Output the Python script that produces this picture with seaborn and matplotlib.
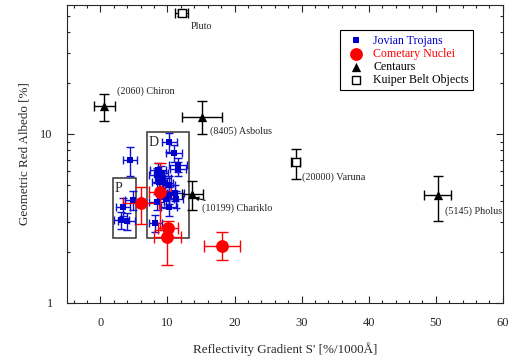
"""Albedo vs. reflectivity gradient for Trojans, comets, Centaurs and KBOs."""
import matplotlib
matplotlib.use("Agg")
import matplotlib.pyplot as plt
from matplotlib.patches import Rectangle
from matplotlib.ticker import MultipleLocator, FixedLocator, NullFormatter
import seaborn as sns

# Jovian Trojans: S' [%/1000A], albedo [%]
troj_s = [4.4, 4.9, 3.4, 3.1, 3.9, 10.3, 11.0, 11.6, 11.6, 8.55, 9.05, 8.4, 9.3,
          8.8, 9.7, 10.2, 11.2, 10.3, 9.8, 11.3, 8.4, 10.2, 8.2]
troj_a = [7.0, 4.07, 3.71, 3.1, 3.06, 9.0, 7.75, 6.56, 6.2, 6.13, 5.85, 5.7, 5.47,
          5.2, 5.1, 5.0, 4.5, 4.35, 4.12, 4.12, 3.98, 3.71, 2.96]
troj_serr = [1.0, 1.2, 1.0, 1.1, 1.2, 1.1, 1.2, 1.3, 1.2, 1.2, 1.0, 1.1, 1.2,
             1.1, 1.2, 1.0, 1.2, 1.1, 1.2, 1.0, 1.1, 1.2, 1.0]
troj_aerr = [1.4, 0.5, 0.45, 0.35, 0.35, 1.2, 0.9, 0.6, 0.6, 0.6, 0.6, 0.6, 0.6,
             0.55, 0.55, 0.6, 0.5, 0.5, 0.5, 0.5, 0.45, 0.45, 0.35]

# Cometary nuclei
com_s = [6.1, 8.9, 10.05, 9.95, 18.1]
com_a = [3.9, 4.55, 2.77, 2.47, 2.17]
com_serr = [2.7, 1.6, 1.5, 2.0, 2.7]
com_alo = [0.97, 1.85, 0.3, 0.8, 0.37]
com_ahi = [0.97, 2.2, 0.3, 0.35, 0.46]

# Centaurs
cen_names = ["(2060) Chiron", "(8405) Asbolus", "(10199) Chariklo", "(5145) Pholus"]
cen_s = [0.6, 15.1, 13.7, 50.3]
cen_a = [14.6, 12.6, 4.42, 4.36]
cen_serr = [1.6, 3.0, 1.6, 2.0]
cen_alo = [2.7, 2.6, 0.87, 1.31]
cen_ahi = [2.7, 3.1, 0.88, 1.24]

# Kuiper Belt Objects
kbo_names = ["Pluto", "(20000) Varuna"]
kbo_s = [12.1, 29.1]
kbo_a = [52.0, 6.8]
kbo_serr = [0.9, 0.7]
kbo_alo = [2.0, 1.4]
kbo_ahi = [2.0, 1.3]

# taxonomic boxes: (name, s_min, s_max, a_min, a_max)
boxes = [("P", 1.85, 5.3, 2.41, 5.47), ("D", 6.9, 13.2, 2.41, 10.3)]

sns.set_style("ticks")
plt.rcParams["font.family"] = ["Liberation Serif", "DejaVu Serif"]

fig, ax = plt.subplots(figsize=(5.1, 3.58), dpi=100)
fig.subplots_adjust(left=0.131, right=0.986, bottom=0.154, top=0.986)

eb = dict(fmt="none", elinewidth=1.0, capthick=1.0, zorder=2)
ax.errorbar(troj_s, troj_a, xerr=troj_serr, yerr=troj_aerr, ecolor="#1010d0",
            capsize=3, **eb)
ax.errorbar(com_s, com_a, xerr=com_serr, yerr=[com_alo, com_ahi], ecolor="red",
            capsize=4, **eb)
ax.errorbar(cen_s, cen_a, xerr=cen_serr, yerr=[cen_alo, cen_ahi], ecolor="black",
            capsize=3.5, **eb)
ax.errorbar(kbo_s, kbo_a, xerr=kbo_serr, yerr=[kbo_alo, kbo_ahi], ecolor="black",
            capsize=3.5, **eb)

sns.scatterplot(x=troj_s, y=troj_a, marker="s", s=14, color="#0000cc",
                edgecolor="#0000cc", linewidth=0, ax=ax, zorder=3, label="Jovian Trojans")
sns.scatterplot(x=com_s, y=com_a, marker="o", s=85, color="red",
                edgecolor="red", linewidth=0, ax=ax, zorder=3, label="Cometary Nuclei")
sns.scatterplot(x=cen_s, y=cen_a, marker="^", s=45, color="black",
                edgecolor="black", linewidth=0, ax=ax, zorder=3, label="Centaurs")
sns.scatterplot(x=kbo_s, y=kbo_a, marker="s", s=38, color="white",
                edgecolor="black", linewidth=1.0, ax=ax, zorder=3, label="Kuiper Belt Objects")

for name, s0, s1, a0, a1 in boxes:
    ax.add_patch(Rectangle((s0, a0), s1 - s0, a1 - a0, fill=False,
                           edgecolor="#333333", linewidth=1.1, zorder=1))
    ax.text(s0 + 0.3, a1 * 0.95, name, fontsize=10, va="top", ha="left")

lab = dict(fontsize=7.3, va="center", ha="left")
ax.text(kbo_s[0] + 1.4, kbo_a[0] * 0.83, kbo_names[0], **lab)
ax.text(kbo_s[1] + 1.0, kbo_a[1] * 0.82, kbo_names[1], **lab)
ax.text(cen_s[0] + 1.9, cen_a[0] * 1.23, cen_names[0], **lab)
ax.text(cen_s[1] + 1.3, cen_a[1] * 0.82, cen_names[1], **lab)
ax.text(cen_s[3] + 1.1, cen_a[3] * 0.8, cen_names[3], **lab)
ax.annotate(cen_names[2], xy=(cen_s[2] + 0.3, cen_a[2] * 0.95),
            xytext=(cen_s[2] + 1.5, cen_a[2] * 0.82), fontsize=7.3, va="center",
            arrowprops=dict(arrowstyle="-|>", color="black", lw=0.8,
                            shrinkA=0, shrinkB=0, mutation_scale=6))

ax.set_yscale("log")
ax.set_xlim(-5, 60)
ax.set_ylim(1, 58)
ax.xaxis.set_major_locator(MultipleLocator(10))
ax.xaxis.set_minor_locator(MultipleLocator(2))
ax.yaxis.set_major_locator(FixedLocator([1, 10]))
ax.yaxis.set_major_formatter(matplotlib.ticker.FuncFormatter(lambda v, p: f"{v:g}"))
ax.yaxis.set_minor_formatter(NullFormatter())
ax.tick_params(which="both", direction="in", top=True, right=True, labelsize=9)
ax.tick_params(which="major", length=5, width=0.8, pad=10)
ax.tick_params(which="minor", length=2.5, width=0.8)
for sp in ax.spines.values():
    sp.set_linewidth(0.8)

ax.set_xlabel("Reflectivity Gradient S' [%/1000Å]", fontsize=9.4, labelpad=10)
ax.set_ylabel("Geometric Red Albedo [%]", fontsize=9.4, labelpad=7)

leg = ax.legend(loc="upper right", bbox_to_anchor=(0.945, 0.935), fontsize=8.6,
                frameon=True, fancybox=False, edgecolor="black", framealpha=1,
                handletextpad=0.4, borderpad=0.35, labelspacing=0.1, markerscale=1)
leg.get_frame().set_linewidth(0.8)
for txt, c in zip(leg.get_texts(), ["#0000cc", "red", "black", "black"]):
    txt.set_color(c)

fig.savefig("out.png", dpi=100)
